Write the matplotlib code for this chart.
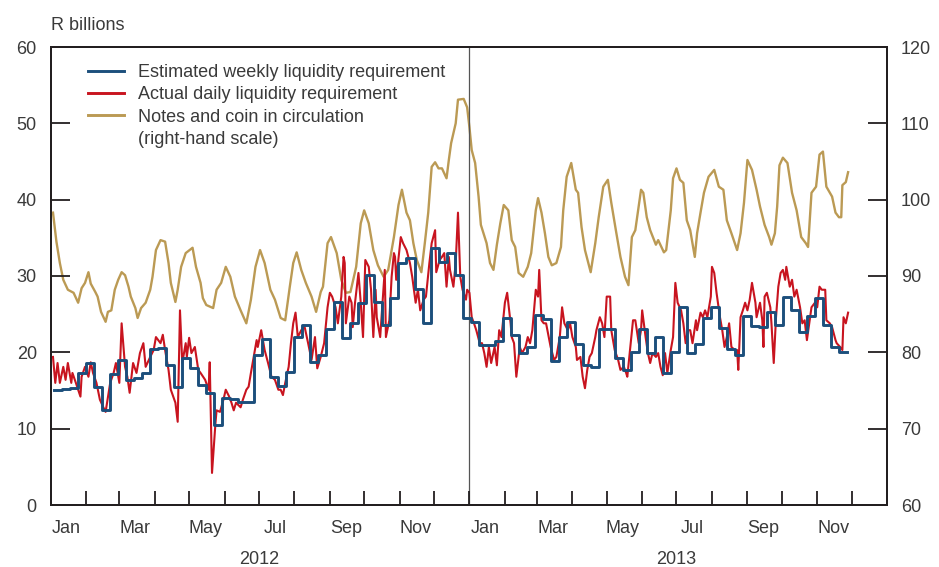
import numpy as np
import pandas as pd
import matplotlib
matplotlib.use("Agg")
import matplotlib.pyplot as plt
import matplotlib.dates as mdates
import matplotlib.transforms as mtransforms
from matplotlib.lines import Line2D
from matplotlib.ticker import NullFormatter, MultipleLocator

plt.rcParams["font.family"] = ["Liberation Sans", "DejaVu Sans"]

# ---- data -------------------------------------------------------------
origin = np.datetime64("2012-01-01")

# Notes and coin in circulation (R billions, right-hand scale); days since 1 Jan 2012
gold_days = [2, 5, 8, 11, 15, 20, 24, 27, 30, 33, 35, 39, 41, 44, 48, 50, 53, 56, 59, 62,
             65, 68, 70, 74, 76, 79, 83, 87, 89, 92, 96, 100, 103, 105, 109, 111, 114, 118, 124, 127,
             131, 133, 136, 142, 145, 149, 153, 157, 161, 166, 171, 175, 179, 183, 187, 192, 196, 201, 205, 209,
             212, 215, 219, 223, 228, 232, 236, 238, 242, 245, 250, 254, 258, 262, 267, 271, 274, 278, 282, 286,
             291, 295, 300, 304, 307, 311, 314, 317, 320, 324, 327, 330, 333, 336, 339, 342, 346, 348, 350, 354,
             356, 361, 364, 366, 368, 371, 374, 376, 381, 384, 387, 390, 393, 396, 400, 403, 406, 409, 413, 417,
             420, 424, 426, 429, 432, 435, 438, 442, 446, 448, 451, 455, 459, 461, 464, 467, 472, 476, 479, 483,
             487, 490, 494, 498, 502, 505, 508, 511, 516, 518, 521, 524, 529, 531, 536, 538, 542, 544, 547, 550,
             553, 556, 559, 563, 565, 568, 571, 575, 580, 584, 588, 591, 595, 600, 603, 606, 609, 613, 617, 620,
             624, 628, 630, 633, 635, 637, 640, 644, 648, 652, 656, 660, 662, 665, 669, 672, 675, 678, 683, 686,
             689, 691, 692, 695, 697]
gold_vals = [98.3, 94.5, 91.7, 89.5, 88.2, 87.8, 86.5, 88.4, 89.1, 90.5, 89.0, 87.9, 87.3, 85.3, 84.0, 85.3, 85.5, 88.2, 89.5, 90.5,
             90.1, 88.6, 87.3, 85.8, 84.5, 85.8, 86.5, 88.2, 89.9, 93.4, 94.7, 94.5, 91.7, 89.1, 86.6, 88.2, 91.2, 93.0, 93.7, 91.2,
             89.1, 87.1, 86.2, 85.8, 88.2, 89.1, 91.2, 89.9, 87.3, 85.5, 83.8, 86.9, 91.2, 93.4, 91.7, 88.2, 86.9, 84.5, 84.2, 88.6,
             91.7, 93.1, 90.8, 89.1, 87.3, 85.3, 87.9, 88.6, 94.3, 95.1, 93.0, 89.5, 87.8, 87.9, 91.2, 96.9, 98.6, 96.9, 93.4, 91.4,
             89.9, 90.8, 95.1, 99.3, 101.3, 98.3, 97.3, 94.3, 92.1, 90.5, 94.3, 98.3, 104.3, 104.9, 104.1, 104.1, 102.8, 105.2, 107.4, 110.0,
             113.1, 113.2, 112.1, 109.5, 106.5, 104.8, 100.4, 96.7, 94.3, 91.7, 90.8, 94.1, 96.9, 99.3, 98.6, 94.7, 93.8, 90.4, 89.9, 91.2,
             93.0, 98.6, 100.2, 98.3, 95.6, 92.5, 91.4, 91.7, 93.8, 98.6, 103.0, 104.8, 101.3, 100.9, 96.4, 93.4, 90.5, 94.3, 97.7, 101.7,
             102.6, 99.6, 96.0, 92.5, 89.9, 88.8, 95.1, 96.0, 101.3, 100.9, 97.7, 96.0, 94.1, 94.7, 93.1, 93.4, 98.6, 102.8, 104.1, 102.6,
             102.2, 97.3, 96.0, 92.5, 95.6, 98.3, 100.9, 103.0, 103.9, 101.7, 101.3, 97.3, 95.6, 93.4, 95.6, 99.6, 105.2, 103.9, 101.3, 99.1,
             96.7, 95.1, 94.1, 95.6, 99.1, 104.5, 105.5, 104.8, 100.9, 98.6, 95.1, 94.3, 93.8, 100.9, 101.7, 105.9, 106.3, 101.7, 100.4, 98.3,
             97.7, 97.7, 101.9, 102.3, 103.6]

# Actual daily liquidity requirement (R billions); days since 1 Jan 2012
red_days = [2, 4, 6, 8, 11, 13, 15, 18, 19, 22, 26, 27, 30, 33, 35, 37, 40, 43, 46, 48,
            52, 55, 57, 60, 62, 65, 67, 69, 72, 75, 78, 81, 83, 87, 90, 92, 96, 98, 100, 101,
            103, 105, 109, 111, 113, 115, 118, 119, 121, 123, 126, 129, 131, 135, 138, 139, 141, 144, 145, 148,
            151, 153, 156, 158, 160, 162, 166, 168, 171, 173, 175, 178, 180, 181, 184, 187, 190, 193, 196, 199,
            201, 203, 205, 208, 210, 212, 214, 216, 219, 222, 225, 228, 231, 233, 236, 239, 242, 244, 246, 249,
            251, 254, 256, 257, 258, 261, 263, 264, 266, 269, 271, 273, 275, 278, 280, 282, 284, 285, 288, 290,
            292, 293, 296, 298, 300, 301, 302, 306, 308, 311, 314, 316, 319, 321, 323, 326, 328, 331, 333, 336,
            337, 340, 342, 344, 346, 348, 349, 352, 354, 356, 358, 360, 363, 364, 366, 368, 370, 372, 375, 377,
            379, 381, 383, 385, 388, 390, 392, 394, 397, 399, 402, 403, 405, 407, 410, 412, 415, 417, 419, 421,
            424, 426, 427, 429, 431, 433, 437, 440, 442, 445, 447, 449, 452, 454, 456, 459, 460, 463, 465, 467,
            469, 471, 473, 476, 477, 480, 482, 484, 486, 489, 490, 493, 496, 498, 501, 503, 504, 507, 509, 511,
            514, 516, 517, 520, 522, 524, 526, 529, 531, 533, 535, 537, 539, 542, 544, 546, 548, 551, 553, 555,
            557, 559, 561, 564, 565, 568, 570, 572, 574, 577, 578, 580, 582, 585, 587, 589, 591, 593, 595, 598,
            600, 601, 603, 605, 607, 609, 611, 613, 616, 617, 620, 622, 623, 624, 626, 629, 630, 632, 634, 636,
            638, 640, 642, 643, 646, 648, 650, 652, 655, 657, 659, 661, 663, 665, 668, 670, 672, 674, 677, 678,
            681, 683, 686, 687, 690, 692, 693, 695, 697]
red_vals = [19.4, 16.0, 18.6, 16.0, 18.1, 16.4, 18.6, 16.0, 17.3, 16.0, 14.2, 16.8, 18.1, 16.8, 18.7, 17.3, 16.0, 13.8, 12.8, 12.2,
            16.0, 17.3, 18.6, 16.0, 23.8, 18.1, 16.8, 14.7, 18.6, 17.3, 19.9, 21.2, 18.1, 19.4, 20.3, 22.0, 21.2, 22.3, 20.3, 19.4,
            17.7, 15.1, 13.4, 10.9, 25.5, 18.6, 21.2, 19.4, 21.9, 19.9, 20.7, 17.7, 17.3, 16.4, 15.1, 18.7, 4.2, 10.7, 12.4, 12.2,
            13.8, 15.1, 14.2, 13.4, 12.4, 13.4, 12.8, 13.8, 15.1, 15.5, 17.3, 19.9, 21.6, 20.7, 22.9, 20.3, 18.6, 16.8, 16.4, 15.1,
            15.1, 14.4, 16.0, 18.1, 21.2, 23.8, 25.2, 22.0, 22.9, 23.3, 21.2, 19.0, 22.0, 17.9, 19.4, 21.2, 25.9, 27.8, 27.3, 25.9,
            23.8, 27.3, 32.5, 31.7, 23.8, 27.3, 26.5, 23.3, 26.5, 30.4, 26.5, 22.0, 32.1, 31.2, 28.2, 22.0, 28.2, 24.6, 22.0, 26.5,
            30.8, 22.0, 24.2, 29.9, 33.0, 32.5, 29.5, 35.1, 34.3, 33.4, 31.7, 29.9, 26.5, 28.2, 25.5, 26.9, 27.3, 31.7, 34.3, 36.0,
            30.5, 32.1, 32.5, 33.0, 28.6, 32.5, 30.8, 28.6, 31.7, 38.3, 29.9, 28.2, 26.9, 28.2, 27.8, 24.6, 23.8, 22.9, 21.2, 21.2,
            19.9, 18.1, 20.7, 18.6, 20.7, 18.3, 22.9, 22.0, 26.5, 27.8, 23.8, 22.0, 21.2, 16.8, 20.7, 19.9, 20.7, 22.0, 21.2, 22.9,
            28.2, 27.3, 30.8, 24.2, 23.8, 23.8, 20.7, 19.0, 19.4, 22.0, 25.9, 23.8, 22.9, 23.8, 22.0, 20.7, 19.0, 19.4, 16.8, 15.3,
            17.7, 19.4, 19.9, 22.0, 22.9, 24.6, 23.8, 22.0, 27.3, 27.3, 22.9, 20.3, 19.0, 17.7, 18.1, 17.3, 16.8, 21.2, 24.2, 24.2,
            21.2, 22.9, 25.5, 22.0, 19.9, 18.6, 19.9, 19.4, 19.9, 18.1, 17.0, 19.9, 17.3, 20.3, 22.0, 29.1, 26.5, 25.5, 23.8, 21.2,
            22.9, 22.9, 21.2, 24.2, 22.9, 25.2, 24.6, 25.5, 24.6, 27.3, 31.2, 30.4, 27.8, 24.6, 22.9, 20.7, 22.0, 23.8, 20.7, 20.3,
            20.3, 17.7, 24.6, 25.5, 26.5, 25.5, 26.9, 29.1, 26.5, 24.6, 26.5, 24.2, 20.7, 27.3, 27.8, 25.9, 23.8, 18.6, 24.6, 28.6,
            30.4, 30.8, 29.5, 31.2, 28.6, 29.5, 27.3, 28.2, 25.9, 23.8, 24.2, 21.6, 23.8, 25.9, 26.5, 25.9, 28.6, 28.2, 28.2, 24.2,
            23.8, 23.3, 21.6, 21.2, 20.7, 20.3, 24.6, 23.8, 25.2]

# Estimated weekly liquidity requirement (R billions), one value per week from Wed 4 Jan 2012
blue_first_week = "2012-01-04"
blue_vals = [15.1, 15.2, 15.3, 17.3, 18.6, 15.5, 12.5, 17.1, 19.0, 16.4,
             16.6, 17.3, 20.5, 20.6, 18.3, 15.5, 19.2, 17.9, 15.7, 14.7,
             10.5, 14.0, 13.9, 13.5, 13.5, 19.7, 21.7, 16.8, 15.6, 17.4,
             22.0, 23.6, 18.7, 19.7, 23.0, 26.6, 21.9, 23.8, 26.5, 30.1,
             26.6, 23.6, 27.1, 31.7, 32.3, 28.3, 23.8, 33.7, 31.8, 33.0,
             30.1, 24.5, 24.0, 21.0, 21.0, 21.5, 24.5, 22.3, 19.9, 20.7,
             24.9, 24.4, 18.9, 22.0, 24.0, 21.1, 18.3, 18.1, 23.0, 23.0,
             19.3, 17.7, 20.0, 23.0, 19.9, 22.0, 17.3, 20.0, 26.0, 19.9,
             21.1, 24.5, 26.0, 23.2, 20.4, 19.7, 24.8, 23.4, 23.3, 25.3,
             23.6, 27.3, 25.5, 22.7, 24.8, 27.1, 23.6, 20.7, 20.0, 20.0]

legend_labels = ["Estimated weekly liquidity requirement",
                 "Actual daily liquidity requirement",
                 "Notes and coin in circulation",
                 "(right-hand scale)"]

# ---- styling ----------------------------------------------------------
BLUE = "#1c4f7c"
RED = "#c8141f"
GOLD = "#bb9a54"
INK = "#231f20"
TEXT = "#3a3a3a"
FS = 13

gold_dates = origin + np.array(gold_days).astype("timedelta64[D]")
red_dates = origin + np.array(red_days).astype("timedelta64[D]")
blue_dates = pd.date_range(blue_first_week, periods=len(blue_vals), freq="7D")

fig = plt.figure(figsize=(9.39, 5.67), dpi=100)
ax = fig.add_axes([50.7 / 939, 1 - 505 / 567, 836.3 / 939, 458 / 567])
ax2 = ax.twinx()

ax2.plot(gold_dates, gold_vals, color=GOLD, lw=1.7, solid_joinstyle="round")
ax.plot(red_dates, red_vals, color=RED, lw=1.5, solid_joinstyle="round")
ax.step(blue_dates, blue_vals, where="post", color=BLUE, lw=2.1)
ax.axvline(pd.Timestamp("2013-01-01"), color="#555555", lw=0.9, zorder=0.5)

ax.set_zorder(ax2.get_zorder() + 1)
ax.patch.set_visible(False)

ax.set_xlim(pd.Timestamp("2012-01-01"), pd.Timestamp("2014-01-01"))
ax.set_ylim(0, 60)
ax2.set_ylim(60, 120)
ax.yaxis.set_major_locator(MultipleLocator(10))
ax2.yaxis.set_major_locator(MultipleLocator(10))

ax.xaxis.set_major_locator(mdates.MonthLocator())
ax.xaxis.set_major_formatter(NullFormatter())
ax.xaxis.set_minor_locator(mdates.MonthLocator(bymonth=[1, 3, 5, 7, 9, 11], bymonthday=15))
ax.xaxis.set_minor_formatter(mdates.DateFormatter("%b"))

ax.tick_params(axis="x", which="major", direction="in", length=10, width=1.3, color=INK)
ax.tick_params(axis="x", which="minor", length=0, pad=11, labelsize=FS, labelcolor=TEXT)
ax.tick_params(axis="y", direction="in", length=14, width=1.3, color=INK,
               pad=10, labelsize=FS, labelcolor=TEXT)
ax2.tick_params(axis="y", direction="in", length=14, width=1.3, color=INK,
                pad=10, labelsize=FS, labelcolor=TEXT)

for a in (ax, ax2):
    for s in a.spines.values():
        s.set_color(INK)
        s.set_linewidth(1.4)

# year labels under the month labels
trans = mtransforms.blended_transform_factory(ax.transData, ax.transAxes)
for yr in (2012, 2013):
    ax.text(pd.Timestamp(f"{yr}-07-01"), -0.1, str(yr), transform=trans,
            ha="center", va="top", fontsize=FS, color=TEXT)

fig.text(50.7 / 939, 1 - 30 / 567, "R billions", ha="left", va="baseline",
         fontsize=FS, color=TEXT)

handles = [Line2D([], [], color=BLUE, lw=2.1),
           Line2D([], [], color=RED, lw=2.1),
           Line2D([], [], color=GOLD, lw=2.1),
           Line2D([], [], color="none")]
leg = ax.legend(handles, legend_labels, loc="upper left",
                bbox_to_anchor=(37 / 836.3, 0.963), frameon=False,
                fontsize=FS, handlelength=2.0, handletextpad=0.8,
                labelspacing=0.3, borderpad=0, borderaxespad=0)
for t in leg.get_texts():
    t.set_color(TEXT)

fig.savefig("out.png", dpi=100)
